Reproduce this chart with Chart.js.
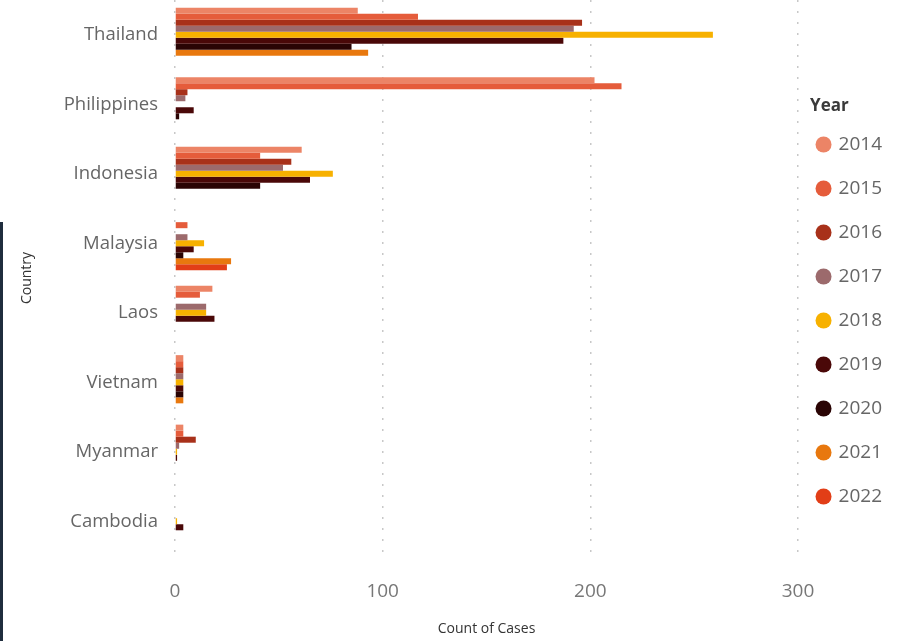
<!DOCTYPE html>
<html>
<head>
<meta charset="utf-8">
<script src="https://cdn.jsdelivr.net/npm/chart.js@4.4.0/dist/chart.umd.min.js"></script>
<style>
  body { margin: 0; background: #fff; }
  #wrap { position: relative; width: 897px; height: 641px; }
  #edge { position: absolute; left: 0; top: 222px; width: 3px; height: 419px; background: #1f2d3d; }
</style>
</head>
<body>
<div id="wrap">
  <canvas id="myChart" width="897" height="641"></canvas>
  <div id="edge"></div>
</div>
<script>
const countries = ['Thailand', 'Philippines', 'Indonesia', 'Malaysia', 'Laos', 'Vietnam', 'Myanmar', 'Cambodia'];
const years = ['2014', '2015', '2016', '2017', '2018', '2019', '2020', '2021', '2022'];
const xTicks = [0, 100, 200, 300];

// cases per year, in country order
const cases2014 = [88, 202, 61, 0, 18, 4, 4, 0];
const cases2015 = [117, 215, 41, 6, 12, 4, 4, 0];
const cases2016 = [196, 6, 56, 0, 0, 4, 10, 0];
const cases2017 = [192, 5, 52, 6, 15, 4, 2, 0];
const cases2018 = [259, 0, 76, 14, 15, 4, 1, 1];
const cases2019 = [187, 9, 65, 9, 19, 4, 1, 4];
const cases2020 = [85, 2, 41, 4, 0, 4, 0, 0];
const cases2021 = [93, 0, 0, 27, 0, 4, 0, 0];
const cases2022 = [0, 0, 0, 25, 0, 0, 0, 0];

const colors = ['#ec8466', '#e55c3b', '#a8311a', '#9c6a6c', '#f7b100', '#4a0808', '#2a0404', '#e8780e', '#e23e17'];
const allCases = [cases2014, cases2015, cases2016, cases2017, cases2018, cases2019, cases2020, cases2021, cases2022];

const ctx = document.getElementById('myChart');
const textFont = '"Open Sans", "Noto Sans", sans-serif';

// nudge the legend a bit left and write its "Year" heading above the items
const legendHeading = {
    id: 'legendHeading',
    afterLayout(chart) {
        chart.legend.left -= 5;
        chart.legend.right -= 5;
    },
    afterDraw(chart) {
        const c = chart.ctx;
        c.save();
        c.font = 'bold 17px ' + textFont;
        c.fillStyle = '#3a3a3a';
        c.textAlign = 'left';
        c.textBaseline = 'middle';
        c.fillText('Year', chart.legend.left + 17, 106);
        c.restore();
    }
};

new Chart(ctx, {
    type: 'bar',
    data: {
        labels: countries,
        datasets: years.map((y, i) => ({
            label: y,
            data: allCases[i],
            backgroundColor: colors[i],
            borderWidth: 0,
            barPercentage: 1,
            categoryPercentage: 0.78
        }))
    },
    options: {
        indexAxis: 'y',
        responsive: false,
        animation: false,
        layout: { padding: 0 },
        scales: {
            x: {
                min: 0,
                max: 300,
                afterBuildTicks: (scale) => { scale.ticks = xTicks.map(v => ({ value: v })); },
                afterFit: (scale) => { scale.height = 85; },
                grid: { color: '#c8c8c8', lineWidth: 1.5, drawTicks: false },
                border: { display: false, dash: [2, 9] },
                ticks: { padding: 24, color: '#777', font: { family: textFont, size: 19 } },
                title: { display: true, text: 'Count of Cases', color: '#333', font: { family: textFont, size: 14 }, padding: { top: 4, bottom: 4 } }
            },
            y: {
                afterFit: (scale) => { scale.width = 175; scale.paddingTop = 0; scale.paddingBottom = 0; },
                grid: { display: false, drawTicks: false },
                border: { display: false },
                ticks: { padding: 17, color: '#666', font: { family: textFont, size: 18.5 } },
                title: { display: true, text: 'Country', color: '#333', font: { family: textFont, size: 14 }, padding: { top: 19, bottom: 4 } }
            }
        },
        plugins: {
            legend: {
                position: 'right',
                align: 'center',
                labels: {
                    usePointStyle: true,
                    pointStyle: 'circle',
                    boxWidth: 11,
                    boxHeight: 11.3,
                    padding: 25,
                    color: '#666',
                    font: { family: textFont, size: 19 }
                }
            },
            tooltip: { enabled: false }
        }
    },
    plugins: [legendHeading]
});
</script>
</body>
</html>
